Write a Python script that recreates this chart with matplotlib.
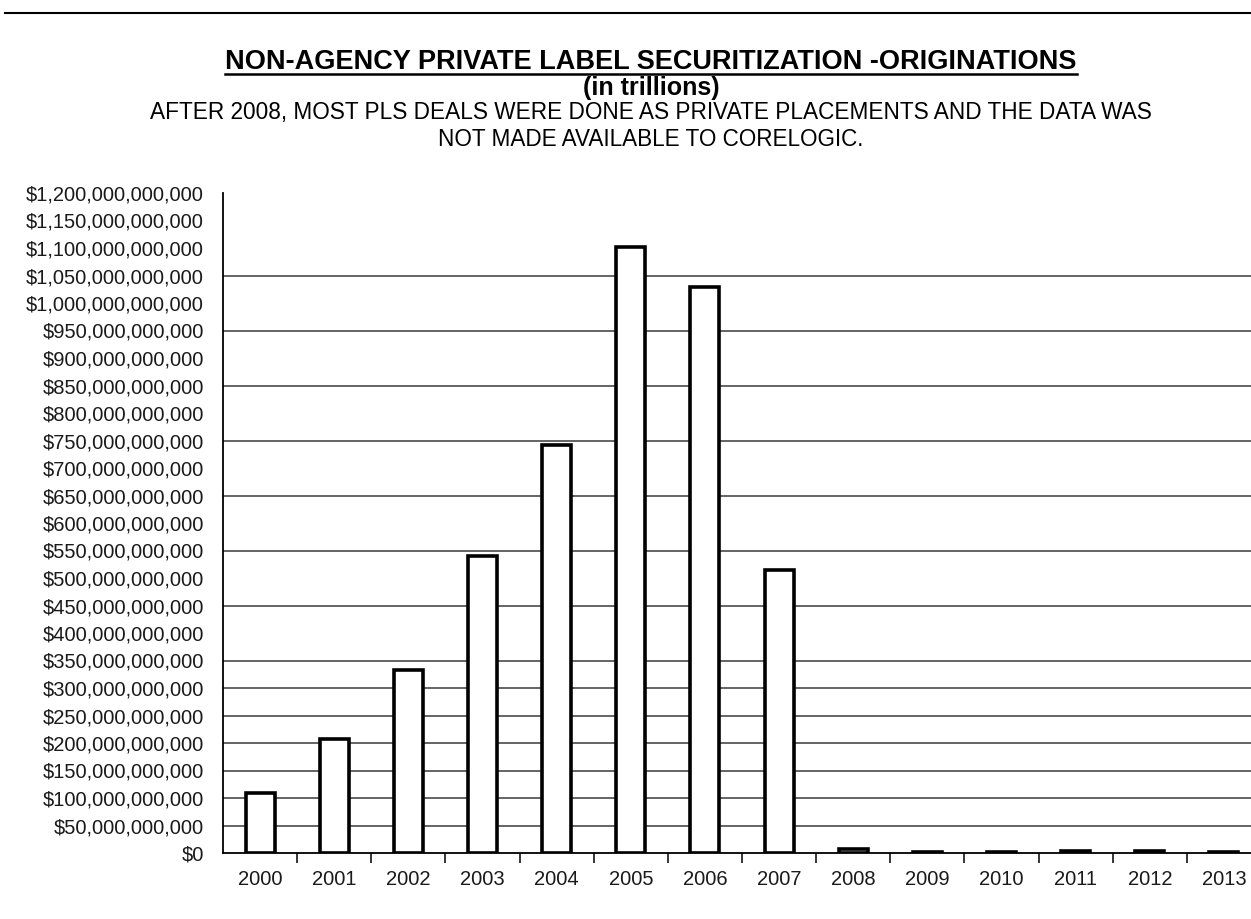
import matplotlib
matplotlib.use("Agg")
import matplotlib.pyplot as plt
from matplotlib.ticker import FuncFormatter, FixedLocator
from matplotlib.lines import Line2D
import numpy as np

# ---------------- data ----------------
years = ["2000", "2001", "2002", "2003", "2004", "2005", "2006",
         "2007", "2008", "2009", "2010", "2011", "2012", "2013"]
originations_bn = [110, 208, 332, 540, 742, 1102, 1030, 514, 8, 2, 2, 4, 4, 2]
title = "NON-AGENCY PRIVATE LABEL SECURITIZATION -ORIGINATIONS"
unit_line = "(in trillions)"
note_lines = ["AFTER 2008, MOST PLS DEALS WERE DONE AS PRIVATE PLACEMENTS AND THE DATA WAS",
              "NOT MADE AVAILABLE TO CORELOGIC."]
y_tick_step_bn = 50
y_max_bn = 1200

# ---------------- figure ----------------
plt.rcParams['font.family'] = ['Liberation Sans', 'DejaVu Sans']
W, H = 1251, 919
fig = plt.figure(figsize=(W / 100, H / 100), dpi=100)
fig.patch.set_facecolor("white")

def fx(px):
    return px / W

def fy(py):
    return 1 - py / H

ax_left, ax_right, ax_top, ax_bottom = 223, 1261, 193, 853
ax = fig.add_axes([fx(ax_left), fy(ax_bottom), fx(ax_right - ax_left), (ax_bottom - ax_top) / H])

values = np.array(originations_bn, dtype=float) * 1e9
x = np.arange(len(years))

# gridlines (as seen in the reference scan)
grid_bn = [1050, 950, 850, 750, 650, 550, 450, 350, 300, 250, 200, 150, 100, 50]
for g in grid_bn:
    ax.axhline(g * 1e9, color="#3a3a3a", lw=1.1, zorder=1)

ax.bar(x, values, width=0.39, color="white", edgecolor="black", linewidth=2.6, zorder=3)

ax.set_xlim(-0.5, len(years) - 0.5)
ax.set_ylim(0, y_max_bn * 1e9)

for s in ["top", "right"]:
    ax.spines[s].set_visible(False)
for s in ["left", "bottom"]:
    ax.spines[s].set_color("black")
    ax.spines[s].set_linewidth(1.3)

# y ticks
yt = np.arange(0, y_max_bn + 1, y_tick_step_bn) * 1e9
ax.yaxis.set_major_locator(FixedLocator(yt))
ax.yaxis.set_major_formatter(FuncFormatter(lambda v, p: "${:,.0f}".format(v)))
ax.yaxis.set_minor_locator(FixedLocator(np.arange(50, y_max_bn, 100) * 1e9))
ax.tick_params(axis="y", which="major", length=0, pad=19 * 72 / 100, labelsize=14.5,
               labelcolor="#1a1a1a")
ax.tick_params(axis="y", which="minor", length=6, width=1.1, color="#3a3a3a", direction="out")

# x ticks
ax.set_xticks(x)
ax.set_xticklabels(years)
ax.set_xticks(np.arange(len(years) - 1) + 0.5, minor=True)
ax.tick_params(axis="x", which="major", length=0, pad=12, labelsize=14.5, labelcolor="#1a1a1a")
ax.tick_params(axis="x", which="minor", length=7, width=1.1, color="black", direction="out")

# ---------------- texts ----------------
cx = fx(651)
renderer = fig.canvas.get_renderer()

def fitted_text(s, y_px, target_w, weight, size0):
    t = fig.text(cx, fy(y_px), s, ha="center", va="center", fontsize=size0,
                 fontweight=weight, color="black")
    w = t.get_window_extent(renderer=renderer).width
    t.set_fontsize(size0 * target_w / w)
    return t

t_title = fitted_text(title, 62, 851, "bold", 17)
fitted_text(unit_line, 88, 137, "bold", 17)
fitted_text(note_lines[0], 113, 1000, "normal", 12)
fitted_text(note_lines[1], 140, 425, "normal", 12)

# underline under title
bb = t_title.get_window_extent(renderer=renderer)
fig.add_artist(Line2D([bb.x0 / W, bb.x1 / W], [fy(74), fy(74)], color="black", lw=1.8))

# top rule line
fig.add_artist(Line2D([fx(5), 1.0], [fy(13), fy(13)], color="black", lw=1.5))

fig.savefig("out.png", dpi=100, facecolor="white")
